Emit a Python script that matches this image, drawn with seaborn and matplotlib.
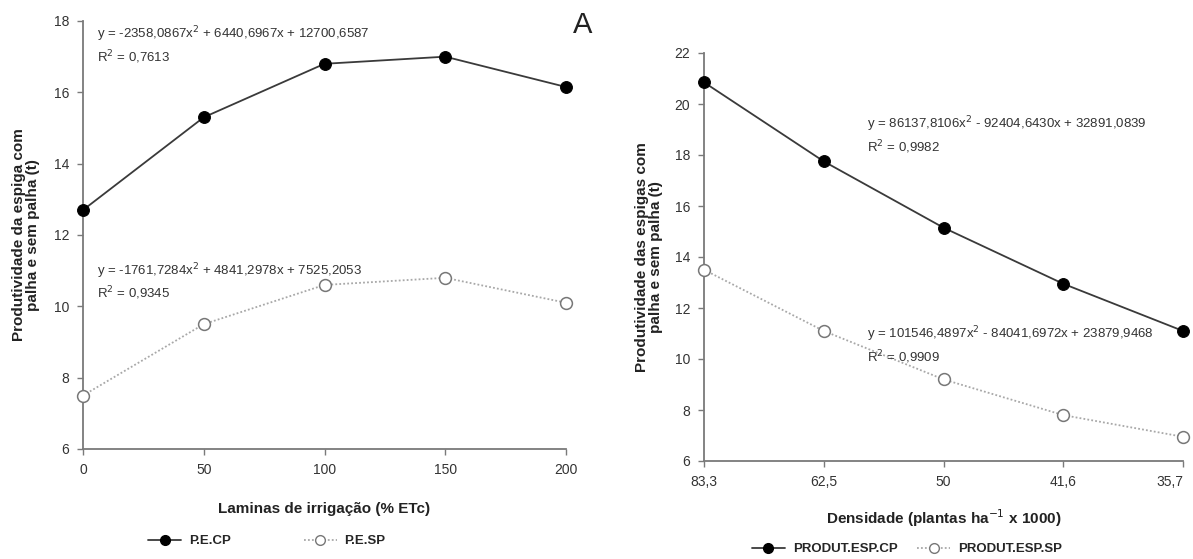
import matplotlib
matplotlib.use("Agg")
import matplotlib.pyplot as plt
import seaborn as sns
import numpy as np
import pandas as pd
from matplotlib.lines import Line2D

# ---- data ----
laminas = [0, 50, 100, 150, 200]
pe_cp = [12.7, 15.3, 16.8, 17.0, 16.15]
pe_sp = [7.5, 9.5, 10.6, 10.8, 10.1]

densidade_labels = ["83,3", "62,5", "50", "41,6", "35,7"]
produt_cp = [20.85, 17.75, 15.15, 12.95, 11.1]
produt_sp = [13.5, 11.1, 9.2, 7.8, 6.95]

left_yticks = [6, 8, 10, 12, 14, 16, 18]
right_yticks = [6, 8, 10, 12, 14, 16, 18, 20, 22]

sns.set_theme(style="white")
narrow = ['Liberation Sans', 'DejaVu Sans']
bold = ['Liberation Sans', 'DejaVu Sans']
plt.rcParams['font.family'] = narrow

fig = plt.figure(figsize=(11.93, 5.59), dpi=100)
fig.patch.set_facecolor("white")

cp_color = "#3a3a3a"
sp_color = "#a8a8a8"
eq_size = 9.5

def style_axes(ax):
    for s in ["top", "right"]:
        ax.spines[s].set_visible(False)
    for s in ["left", "bottom"]:
        ax.spines[s].set_color("#7a7a7a")
        ax.spines[s].set_linewidth(1.3)
    ax.tick_params(axis="both", which="major", direction="out", length=4,
                   width=1.0, color="#7a7a7a", labelsize=10, labelcolor="#333333",
                   left=True, bottom=True, pad=6)
    for lab in ax.get_xticklabels() + ax.get_yticklabels():
        lab.set_family(narrow)

# ---- left panel ----
ax1 = fig.add_axes([83/1193, 1-449/559, (566-83)/1193, (449-21)/559])
dfl = pd.DataFrame({"x": laminas, "cp": pe_cp, "sp": pe_sp})
sns.lineplot(data=dfl, x="x", y="sp", ax=ax1, color=sp_color, linewidth=1.3,
             linestyle=(0, (1, 1.2)), marker="o", markersize=8.5,
             markerfacecolor="white", markeredgecolor="#777777", markeredgewidth=1.1,
             clip_on=False, zorder=3)
sns.lineplot(data=dfl, x="x", y="cp", ax=ax1, color=cp_color, linewidth=1.3,
             marker="o", markersize=8.5, markerfacecolor="black",
             markeredgecolor="black", clip_on=False, zorder=4)
ax1.set_xlim(0, 200)
ax1.set_ylim(6, 18)
ax1.set_xticks(laminas)
ax1.set_yticks(left_yticks)
style_axes(ax1)
ax1.set_xlabel("Laminas de irrigação (% ETc)", fontsize=11, fontweight="bold",
               family=bold, color="#222222", labelpad=18)
ax1.set_ylabel("Produtividade da espiga com\npalha e sem palha (t)", fontsize=11,
               fontweight="bold", family=bold, color="#222222", labelpad=10,
               linespacing=1.0)
ax1.text(0.03, 0.97, "y = -2358,0867x$^2$ + 6440,6967x + 12700,6587", transform=ax1.transAxes,
         fontsize=eq_size, color="#333333", va="center", family=narrow)
ax1.text(0.03, 0.915, "R$^2$ = 0,7613", transform=ax1.transAxes,
         fontsize=eq_size, color="#333333", va="center", family=narrow)
ax1.text(0.03, 0.415, "y = -1761,7284x$^2$ + 4841,2978x + 7525,2053", transform=ax1.transAxes,
         fontsize=eq_size, color="#333333", va="center", family=narrow)
ax1.text(0.03, 0.365, "R$^2$ = 0,9345", transform=ax1.transAxes,
         fontsize=eq_size, color="#333333", va="center", family=narrow)
fig.text(583/1193, 1-25/559, "A", fontsize=21, color="#222222", va="center",
         ha="center", family=['Liberation Sans', 'DejaVu Sans'])

h_cp = Line2D([], [], color=cp_color, linewidth=1.3, marker="o", markersize=7,
              markerfacecolor="black", markeredgecolor="black")
h_sp = Line2D([], [], color=sp_color, linewidth=1.3, linestyle=(0, (1, 1.2)), marker="o",
              markersize=7, markerfacecolor="white", markeredgecolor="#777777")
fig.legend([h_cp, h_sp], ["P.E.CP", "P.E.SP"], loc="center",
           bbox_to_anchor=(267/1193, 1-541/559), ncol=2, frameon=False,
           handlelength=2.5, columnspacing=5.5, handletextpad=0.6,
           prop={"family": narrow, "size": 9.5, "weight": "bold"})

# ---- right panel ----
ax2 = fig.add_axes([704/1193, 1-461/559, (1183-704)/1193, (461-53)/559])
pos = np.arange(len(densidade_labels))
dfr = pd.DataFrame({"x": pos, "cp": produt_cp, "sp": produt_sp})
sns.lineplot(data=dfr, x="x", y="sp", ax=ax2, color=sp_color, linewidth=1.3,
             linestyle=(0, (1, 1.2)), marker="o", markersize=8.5,
             markerfacecolor="white", markeredgecolor="#777777", markeredgewidth=1.1,
             clip_on=False, zorder=3)
sns.lineplot(data=dfr, x="x", y="cp", ax=ax2, color=cp_color, linewidth=1.3,
             marker="o", markersize=8.5, markerfacecolor="black",
             markeredgecolor="black", clip_on=False, zorder=4)
ax2.set_xlim(0, len(densidade_labels) - 1)
ax2.set_ylim(6, 22)
ax2.set_xticks(pos)
ax2.set_xticklabels(densidade_labels)
ax2.set_yticks(right_yticks)
style_axes(ax2)
ax2.xaxis.get_majorticklabels()[-1].set_horizontalalignment("right")
ax2.set_xlabel("Densidade (plantas ha$^{-1}$ x 1000)", fontsize=11, fontweight="bold",
               family=bold, color="#222222", labelpad=13)
ax2.set_ylabel("Produtividade das espigas com\npalha e sem palha (t)", fontsize=11,
               fontweight="bold", family=bold, color="#222222", labelpad=8,
               linespacing=1.0)
ax2.text(0.34, 0.825, "y = 86137,8106x$^2$ - 92404,6430x + 32891,0839", transform=ax2.transAxes,
         fontsize=eq_size, color="#333333", va="center", family=narrow)
ax2.text(0.34, 0.77, "R$^2$ = 0,9982", transform=ax2.transAxes,
         fontsize=eq_size, color="#333333", va="center", family=narrow)
ax2.text(0.34, 0.31, "y = 101546,4897x$^2$ - 84041,6972x + 23879,9468", transform=ax2.transAxes,
         fontsize=eq_size, color="#333333", va="center", family=narrow)
ax2.text(0.34, 0.255, "R$^2$ = 0,9909", transform=ax2.transAxes,
         fontsize=eq_size, color="#333333", va="center", family=narrow)

fig.legend([h_cp, h_sp], ["PRODUT.ESP.CP", "PRODUT.ESP.SP"], loc="center",
           bbox_to_anchor=(907/1193, 1-549/559), ncol=2, frameon=False,
           handlelength=2.5, columnspacing=1.5, handletextpad=0.6,
           prop={"family": narrow, "size": 9.5, "weight": "bold"})

fig.savefig("out.png", dpi=100, facecolor="white")
